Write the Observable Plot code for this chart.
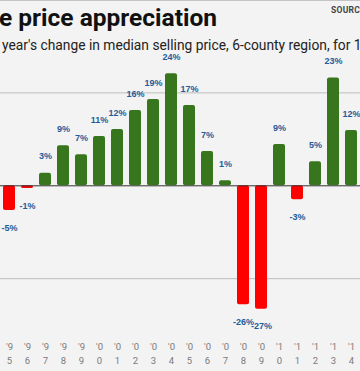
<!DOCTYPE html>
<html><head><meta charset="utf-8">
<script src="https://cdn.jsdelivr.net/npm/d3@7"></script>
<script src="https://cdn.jsdelivr.net/npm/@observablehq/plot@0.6"></script>
<style>
html,body{margin:0;padding:0;background:#f3f3f3;}
#wrap{position:relative;width:360px;height:371px;overflow:hidden;background:#f3f3f3;}
#topline{position:absolute;left:0;top:0;width:360px;height:1px;background:#c4c4c4;z-index:2;}
#header{position:relative;height:50px;}
.t{position:absolute;white-space:nowrap;line-height:1;font-family:Roboto,sans-serif;}
#title{right:143px;top:5.9px;font-size:24.5px;font-weight:700;color:#111;}
#subtitle{left:2px;top:38.6px;font-size:13.8px;color:#222;}
#source{left:331px;top:6.1px;font-size:8.5px;font-weight:700;color:#444;letter-spacing:0.3px;}
#chart svg{display:block;}
</style></head><body>
<div id="wrap">
  <div id="topline"></div>
  <div id="header">
    <div class="t" id="title">Home price appreciation</div>
    <div class="t" id="subtitle">year's change in median selling price, 6-county region, for 1995-2014</div>
    <div class="t" id="source">SOURCE:</div>
  </div>
  <div id="chart"></div>
</div>
<script>
const years = ["1995","1996","1997","1998","1999","2000","2001","2002","2003","2004","2005","2006","2007","2008","2009","2010","2011","2012","2013","2014"];
const changes = [-5.3,-0.6,2.7,8.6,6.7,10.6,12.1,16.2,18.6,24.1,17.3,7.4,1.1,-25.6,-26.6,8.9,-3.0,5.2,23.2,11.9];
const valueLabels = ["-5%","-1%","3%","9%","7%","11%","12%","16%","19%","24%","17%","7%","1%","-26%","-27%","9%","-3%","5%","23%","12%"];
const tickLabels = ["'9\n5","'9\n6","'9\n7","'9\n8","'9\n9","'0\n0","'0\n1","'0\n2","'0\n3","'0\n4","'0\n5","'0\n6","'0\n7","'0\n8","'0\n9","'1\n0","'1\n1","'1\n2","'1\n3","'1\n4"];
const gridValues = [20, -20];

const data = years.map((y, i) => ({year: y, value: changes[i], label: valueLabels[i], tick: tickLabels[i]}));
const pos = data.filter(d => d.value >= 0);
const neg = data.filter(d => d.value < 0);

const chart = Plot.plot({
  width: 360, height: 321,
  marginTop: 0, marginBottom: 8, marginLeft: 0, marginRight: 0,
  style: {background: "transparent", fontFamily: "'Liberation Sans', Arial, sans-serif"},
  x: {type: "band", domain: years, range: [-6.1, 365.7], paddingInner: 0.36, paddingOuter: 0.18, align: 0.5, axis: null},
  y: {domain: [-20, 20], range: [228.2, 42.4], axis: null},
  marks: [
    Plot.ruleY(gridValues, {stroke: "#bdbdbd", strokeWidth: 1}),
    Plot.barY(data, {x: "year", y: "value", fill: d => d.value < 0 ? "#ff0000" : "#38761d", rx: 2}),
    Plot.ruleY([0], {stroke: "#333", strokeWidth: 1}),
    Plot.text(pos, {x: "year", y: "value", text: "label", dy: -16.7, fill: "#1f5c99", fontWeight: "bold", fontSize: 9}),
    Plot.text(neg, {x: "year", y: "value", text: "label", dy: 17.2, fill: "#1f5c99", fontWeight: "bold", fontSize: 9}),
    Plot.text(data, {x: "year", text: "tick", frameAnchor: "bottom", lineAnchor: "bottom", lineHeight: 1.41, fontSize: 9.5, fill: "#7a7a7a", fontFamily: "Roboto, sans-serif"})
  ]
});
document.getElementById("chart").appendChild(chart);
</script>
</body></html>
